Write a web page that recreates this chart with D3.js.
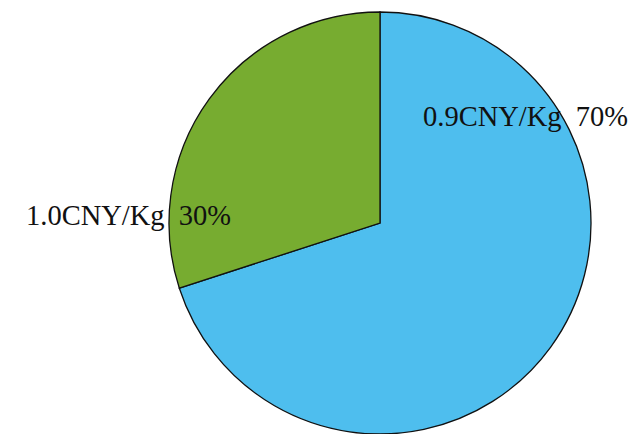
<!DOCTYPE html>
<html>
<head>
<meta charset="utf-8">
<script src="https://cdn.jsdelivr.net/npm/d3@7"></script>
<style>
  body { margin: 0; background: #fff; }
  text { font-family: "Liberation Serif", "Times New Roman", serif; font-size: 28.5px; fill: #111; }
</style>
</head>
<body>
<script>
// data
var categories = ["0.9CNY/Kg", "1.0CNY/Kg"];
var values = [70, 30];
var colors = ["#4ebeee", "#77ac30"];

var width = 631, height = 434;
var cx = 380, cy = 223, radius = 211;

var svg = d3.select("body").append("svg")
    .attr("width", width)
    .attr("height", height);

var g = svg.append("g")
    .attr("transform", "translate(" + cx + "," + cy + ")");

var pie = d3.pie().sort(null).value(function(d) { return d; });
var arc = d3.arc().innerRadius(0).outerRadius(radius);

var arcs = pie(values);

g.selectAll("path")
    .data(arcs)
    .enter().append("path")
    .attr("d", arc)
    .style("fill", function(d, i) { return colors[i]; })
    .style("stroke", "#111")
    .style("stroke-width", 1.3);

// label placement (offsets from centre, text anchored at start)
var labelPos = [[43, -97], [-354, 2]];

g.selectAll("text.lbl")
    .data(arcs)
    .enter().append("text")
    .attr("class", "lbl")
    .attr("x", function(d, i) { return labelPos[i][0]; })
    .attr("y", function(d, i) { return labelPos[i][1]; })
    .attr("xml:space", "preserve")
    .text(function(d, i) { return categories[i] + "  " + values[i] + "%"; });
</script>
</body>
</html>
